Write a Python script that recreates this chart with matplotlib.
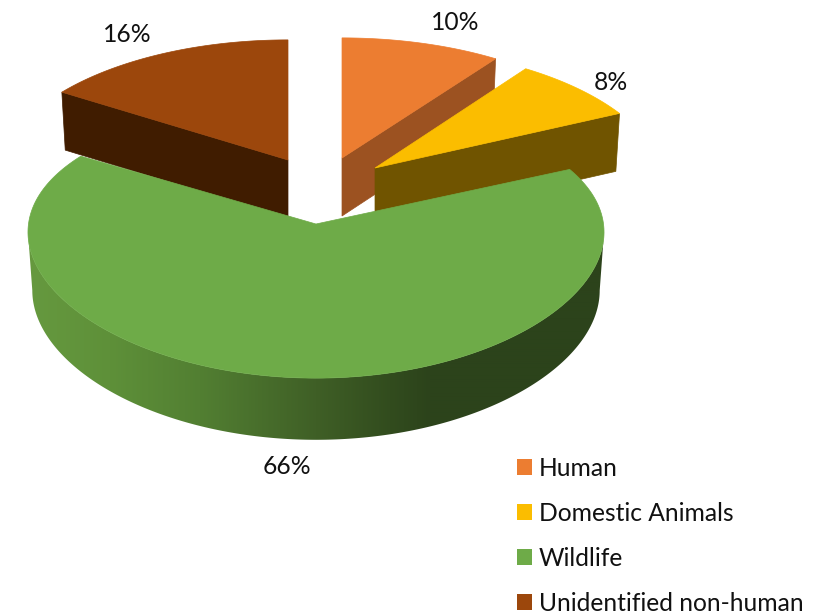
import numpy as np
import matplotlib
matplotlib.use("Agg")
import matplotlib.pyplot as plt
from matplotlib.patches import Patch, Polygon
from matplotlib.colors import to_rgb

categories = ["Human", "Domestic Animals", "Wildlife", "Unidentified non-human"]
values = [10, 8, 66, 16]
labels = ["10%", "8%", "66%", "16%"]

top_colors = ["#EC7D31", "#FBBD00", "#6EAB48", "#9C470C"]
wall_colors = ["#9C5221", "#705400", None, "#401C00"]
centers = [(342, 158), (375, 168), (316, 224), (288, 160)]
label_pos = [(455, 22), (611, 83), (287, 467), (127, 34)]
draw_order = [3, 0, 1, 2]
x_persp = [0.124, 0.15, 0.06, 0.137]

R, KY, P = 287.5, 135.0, 0.124
SHRINK = 0.985

plt.rcParams["font.family"] = ["Lato", "DejaVu Sans"]
fig = plt.figure(figsize=(8.33, 6.14), dpi=100)
ax = fig.add_axes([0, 0, 1, 1])
ax.set_xlim(0, 833)
ax.set_ylim(614, 0)
ax.axis("off")


def project(theta, rad=1.0, px=P):
    """Clockwise angle from twelve o'clock to offset on the tilted top face."""
    u, v = rad * np.sin(theta), -rad * np.cos(theta)
    return R * u / (1 - px * v), KY * v / (1 - P * v)


def lower(theta, rad=1.0, px=P):
    x, y = project(theta, rad, px)
    v = -rad * np.cos(theta)
    return x * SHRINK, y * SHRINK + 58 + (6 if v > 0 else 2) * v


stops_x = [30, 110, 200, 316, 390, 430, 610]
stops_c = ["#66993F", "#5E9039", "#527F32", "#3F5F26", "#324C1E", "#2C431B", "#2C431B"]


def wall_gradient(x):
    rgb = np.array([to_rgb(c) for c in stops_c])
    return np.stack([np.interp(x, stops_x, rgb[:, i]) for i in range(3)], axis=-1)


fractions = np.array(values) / sum(values)
edges = np.concatenate([[0], np.cumsum(fractions)]) * 2 * np.pi

for i in draw_order:
    cx, cy = centers[i]
    a0, a1 = edges[i], edges[i + 1]
    px = x_persp[i]
    arc = np.linspace(a0, a1, 300)
    rim = np.array([project(t, 1.0, px) for t in arc])
    if i == 2:
        # outer wall: one polygon filled with a left-to-right gradient,
        # running between the two silhouette points of the tilted disc
        vis = np.linspace(np.pi / 2 + px, 3 * np.pi / 2 - px, 300)
        upper_edge = [project(t, 1.0, px) for t in vis]
        lower_edge = [lower(t, 1.0, px) for t in vis[::-1]]
        shape = [(cx + x, cy + y) for x, y in upper_edge + lower_edge]
        clip = Polygon(shape, closed=True, transform=ax.transData, fc="none", ec="none")
        ax.add_patch(clip)
        xs = np.arange(0, 833)
        img = ax.imshow(wall_gradient(xs)[None, :, :], extent=(0, 833, 460, 200),
                        aspect="auto", zorder=2, interpolation="bilinear")
        img.set_clip_path(clip)
        ax.set_xlim(0, 833)
        ax.set_ylim(614, 0)
    else:
        # flat cut face that faces the viewer
        t = a0 if i == 3 else a1
        p = [(0, 0), project(t, 1.0, px), lower(t, 1.0, px), lower(t, 0.0, px)]
        ax.add_patch(Polygon([(cx + x, cy + y) for x, y in p], closed=True,
                             fc=wall_colors[i], ec=wall_colors[i], lw=0.5, zorder=1))
    poly = [(cx, cy)] + [(cx + x, cy + y) for x, y in rim]
    ax.add_patch(Polygon(poly, closed=True, fc=top_colors[i], ec=top_colors[i],
                         lw=0.5, zorder=3 if i == 2 else 1.5))

FS = 17.7
for txt, (x, y) in zip(labels, label_pos):
    ax.text(x, y, txt, ha="center", va="center", fontsize=FS, color="#111111", zorder=5)

handles = [Patch(fc=c, ec="none") for c in top_colors]
px_size = FS * 100 / 72
ax.legend(handles, categories, loc="upper left", bbox_to_anchor=(517 / 833, 1 - 457 / 614),
          frameon=False, fontsize=FS, handlelength=15 / px_size, handleheight=15 / px_size,
          handletextpad=7 / px_size, labelspacing=(46.2 - px_size * 0.99) / px_size,
          borderpad=0, borderaxespad=0, labelcolor="#111111")

fig.savefig("out.png", dpi=100)
